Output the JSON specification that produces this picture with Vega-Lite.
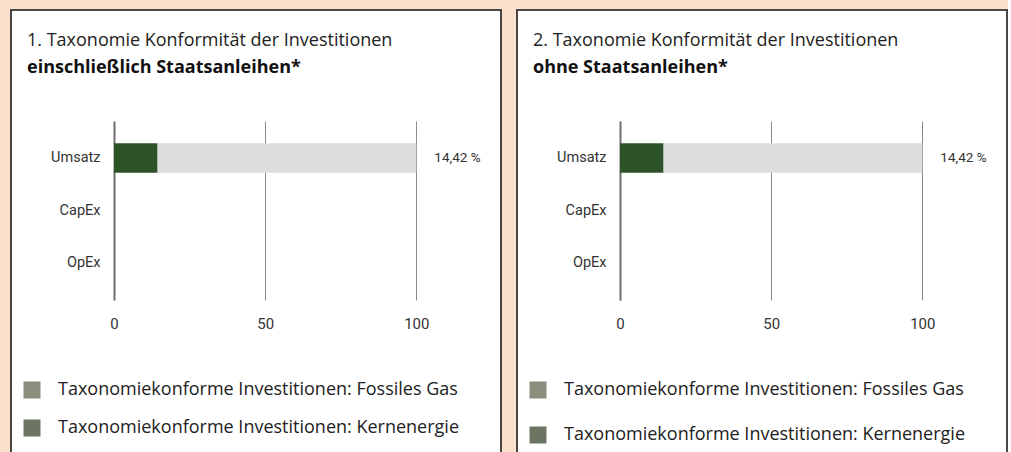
{
  "$schema": "https://vega.github.io/schema/vega-lite/v6.json",
  "background": "#f9e1cd",
  "padding": {"left": 10, "top": 9, "right": 0, "bottom": 0},
  "config": {
    "font": "Roboto",
    "view": {"stroke": "#4b4442", "strokeWidth": 2, "fill": "white"},
    "axis": {"grid": false, "ticks": false, "tickSize": 0, "domain": false, "title": null, "labelFontSize": 15, "labelColor": "#333333", "labelFontWeight": "normal", "labelFlush": false},
    "legend": {"orient": "none", "legendX": 12, "legendY": 371, "title": null, "symbolType": "square", "symbolSize": 289, "symbolStrokeWidth": 0, "symbolOpacity": 1, "labelFont": "Open Sans", "labelFontSize": 18, "labelColor": "#222222", "labelOffset": 17, "labelLimit": 700, "padding": 0},
    "title": {"anchor": "start", "frame": "group", "offset": -67, "dx": 16, "font": "Open Sans", "fontSize": 18, "fontWeight": "normal", "color": "#222222", "subtitleFont": "Open Sans", "subtitleFontSize": 18, "subtitleFontWeight": "bold", "subtitleColor": "#111111", "subtitlePadding": 9.5}
  },
  "datasets": {
    "links": [
      {"kategorie": "Umsatz", "serie": "Taxonomiekonforme Investitionen: Fossiles Gas", "wert": 0, "ord": 1},
      {"kategorie": "Umsatz", "serie": "Taxonomiekonforme Investitionen: Kernenergie", "wert": 0, "ord": 2},
      {"kategorie": "Umsatz", "serie": "Taxonomiekonform (ohne fossiles Gas und Kernenergie)", "wert": 14.42, "ord": 3},
      {"kategorie": "Umsatz", "serie": "Nicht taxonomiekonform", "wert": 85.58, "ord": 4},
      {"kategorie": "CapEx", "serie": "Taxonomiekonforme Investitionen: Fossiles Gas", "wert": 0, "ord": 1},
      {"kategorie": "CapEx", "serie": "Taxonomiekonforme Investitionen: Kernenergie", "wert": 0, "ord": 2},
      {"kategorie": "CapEx", "serie": "Taxonomiekonform (ohne fossiles Gas und Kernenergie)", "wert": 0, "ord": 3},
      {"kategorie": "CapEx", "serie": "Nicht taxonomiekonform", "wert": 0, "ord": 4},
      {"kategorie": "OpEx", "serie": "Taxonomiekonforme Investitionen: Fossiles Gas", "wert": 0, "ord": 1},
      {"kategorie": "OpEx", "serie": "Taxonomiekonforme Investitionen: Kernenergie", "wert": 0, "ord": 2},
      {"kategorie": "OpEx", "serie": "Taxonomiekonform (ohne fossiles Gas und Kernenergie)", "wert": 0, "ord": 3},
      {"kategorie": "OpEx", "serie": "Nicht taxonomiekonform", "wert": 0, "ord": 4}
    ],
    "rechts": [
      {"kategorie": "Umsatz", "serie": "Taxonomiekonforme Investitionen: Fossiles Gas", "wert": 0, "ord": 1},
      {"kategorie": "Umsatz", "serie": "Taxonomiekonforme Investitionen: Kernenergie", "wert": 0, "ord": 2},
      {"kategorie": "Umsatz", "serie": "Taxonomiekonform (ohne fossiles Gas und Kernenergie)", "wert": 14.42, "ord": 3},
      {"kategorie": "Umsatz", "serie": "Nicht taxonomiekonform", "wert": 85.58, "ord": 4},
      {"kategorie": "CapEx", "serie": "Taxonomiekonforme Investitionen: Fossiles Gas", "wert": 0, "ord": 1},
      {"kategorie": "CapEx", "serie": "Taxonomiekonforme Investitionen: Kernenergie", "wert": 0, "ord": 2},
      {"kategorie": "CapEx", "serie": "Taxonomiekonform (ohne fossiles Gas und Kernenergie)", "wert": 0, "ord": 3},
      {"kategorie": "CapEx", "serie": "Nicht taxonomiekonform", "wert": 0, "ord": 4},
      {"kategorie": "OpEx", "serie": "Taxonomiekonforme Investitionen: Fossiles Gas", "wert": 0, "ord": 1},
      {"kategorie": "OpEx", "serie": "Taxonomiekonforme Investitionen: Kernenergie", "wert": 0, "ord": 2},
      {"kategorie": "OpEx", "serie": "Taxonomiekonform (ohne fossiles Gas und Kernenergie)", "wert": 0, "ord": 3},
      {"kategorie": "OpEx", "serie": "Nicht taxonomiekonform", "wert": 0, "ord": 4}
    ],
    "links_label": [{"kategorie": "Umsatz", "gesamt": 100, "label": "14,42 %"}],
    "rechts_label": [{"kategorie": "Umsatz", "gesamt": 100, "label": "14,42 %"}]
  },
  "spacing": 14,
  "hconcat": [
    {
      "width": 490,
      "height": 444,
      "title": {"text": "1. Taxonomie Konformität der Investitionen", "subtitle": "einschließlich Staatsanleihen*"},
      "layer": [
        {
          "data": {"name": "links"},
          "mark": {"type": "bar"},
          "encoding": {
            "y": {"field": "kategorie", "type": "nominal", "sort": ["Umsatz", "CapEx", "OpEx"],
                  "scale": {"range": [111, 290], "paddingInner": 0.438, "paddingOuter": 0.424},
                  "axis": {"orient": "left", "offset": -103, "domain": true, "domainColor": "#6e6e6e", "domainWidth": 2, "labelPadding": 14, "labelFontSize": 14.5}},
            "x": {"field": "wert", "type": "quantitative", "stack": "zero",
                  "scale": {"domain": [0, 100], "range": [103, 405.3], "nice": false},
                  "axis": {"orient": "top", "values": [0, 50, 100], "grid": true, "gridColor": "#8a8a8a", "gridWidth": 1, "offset": -321, "labelPadding": 0, "labelBaseline": "bottom"}},
            "color": {"field": "serie", "type": "nominal",
                      "scale": {"domain": ["Taxonomiekonforme Investitionen: Fossiles Gas", "Taxonomiekonforme Investitionen: Kernenergie", "Taxonomiekonform (ohne fossiles Gas und Kernenergie)", "Nicht taxonomiekonform"],
                                "range": ["#8c8d7d", "#6b7562", "#2f5329", "#dcdddf"]},
                      "legend": {"values": ["Taxonomiekonforme Investitionen: Fossiles Gas", "Taxonomiekonforme Investitionen: Kernenergie"], "rowPadding": 20}},
            "order": {"field": "ord", "type": "quantitative"}
          }
        },
        {
          "data": {"name": "links_label"},
          "mark": {"type": "text", "align": "left", "baseline": "middle", "dx": 18, "fontSize": 13.5, "color": "#333333"},
          "encoding": {
            "y": {"field": "kategorie", "type": "nominal", "sort": ["Umsatz", "CapEx", "OpEx"]},
            "x": {"field": "gesamt", "type": "quantitative"},
            "text": {"field": "label"}
          }
        }
      ]
    },
    {
      "width": 490,
      "height": 444,
      "title": {"text": "2. Taxonomie Konformität der Investitionen", "subtitle": "ohne Staatsanleihen*"},
      "layer": [
        {
          "data": {"name": "rechts"},
          "mark": {"type": "bar"},
          "encoding": {
            "y": {"field": "kategorie", "type": "nominal", "sort": ["Umsatz", "CapEx", "OpEx"],
                  "scale": {"range": [111, 290], "paddingInner": 0.438, "paddingOuter": 0.424},
                  "axis": {"orient": "left", "offset": -103, "domain": true, "domainColor": "#6e6e6e", "domainWidth": 2, "labelPadding": 14, "labelFontSize": 14.5}},
            "x": {"field": "wert", "type": "quantitative", "stack": "zero",
                  "scale": {"domain": [0, 100], "range": [103, 405.3], "nice": false},
                  "axis": {"orient": "top", "values": [0, 50, 100], "grid": true, "gridColor": "#8a8a8a", "gridWidth": 1, "offset": -321, "labelPadding": 0, "labelBaseline": "bottom"}},
            "color": {"field": "serie", "type": "nominal",
                      "scale": {"domain": ["Taxonomiekonforme Investitionen: Fossiles Gas", "Taxonomiekonforme Investitionen: Kernenergie", "Taxonomiekonform (ohne fossiles Gas und Kernenergie)", "Nicht taxonomiekonform"],
                                "range": ["#8c8d7d", "#6b7562", "#2f5329", "#dcdddf"]},
                      "legend": {"values": ["Taxonomiekonforme Investitionen: Fossiles Gas", "Taxonomiekonforme Investitionen: Kernenergie"], "rowPadding": 27}},
            "order": {"field": "ord", "type": "quantitative"}
          }
        },
        {
          "data": {"name": "rechts_label"},
          "mark": {"type": "text", "align": "left", "baseline": "middle", "dx": 18, "fontSize": 13.5, "color": "#333333"},
          "encoding": {
            "y": {"field": "kategorie", "type": "nominal", "sort": ["Umsatz", "CapEx", "OpEx"]},
            "x": {"field": "gesamt", "type": "quantitative"},
            "text": {"field": "label"}
          }
        }
      ]
    }
  ],
  "resolve": {"scale": {"color": "independent", "x": "independent", "y": "independent"}, "legend": {"color": "independent"}}
}
